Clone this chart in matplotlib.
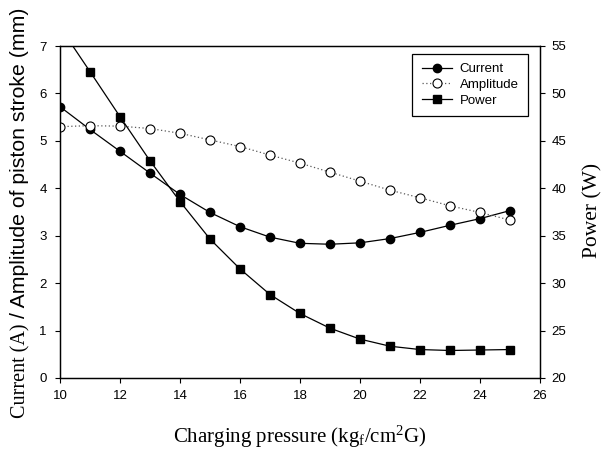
import matplotlib
matplotlib.use("Agg")
import matplotlib.pyplot as plt
from matplotlib.lines import Line2D

# charging pressure (kgf/cm2G)
pressure = [10, 11, 12, 13, 14, 15, 16, 17, 18, 19, 20, 21, 22, 23, 24, 25]
# current (A), left axis
current = [5.72, 5.24, 4.78, 4.32, 3.87, 3.49, 3.19, 2.97, 2.84, 2.82,
           2.85, 2.94, 3.07, 3.22, 3.36, 3.53]
# amplitude of piston stroke (mm), left axis
amplitude = [5.30, 5.32, 5.31, 5.26, 5.16, 5.02, 4.88, 4.70, 4.53, 4.34,
             4.15, 3.96, 3.80, 3.63, 3.49, 3.33]
# power (W), right axis
power = [57.0, 52.3, 47.55, 42.9, 38.6, 34.65, 31.5, 28.8, 26.8, 25.25,
         24.1, 23.35, 23.0, 22.9, 22.95, 23.0]

W, H = 601, 453
plt.rcParams['font.family'] = 'Liberation Sans'
plt.rcParams['mathtext.fontset'] = 'custom'
plt.rcParams['mathtext.rm'] = 'Liberation Serif'
plt.rcParams['mathtext.it'] = 'Liberation Serif:italic'

fig = plt.figure(figsize=(W / 100, H / 100), dpi=100)
ax = fig.add_axes([60 / W, 75 / H, 480 / W, 332 / H])
ax2 = ax.twinx()

ax.plot(pressure, current, '-o', color='black', lw=0.9, ms=6,
        mfc='black', mec='black', zorder=3)
ax.plot(pressure, amplitude, linestyle=(0, (1, 2)), color='0.35', lw=0.9,
        marker='o', ms=6.5, mfc='white', mec='black', mew=0.8, zorder=3)
ax2.plot(pressure, power, '-s', color='black', lw=0.9, ms=5.5,
         mfc='black', mec='black', zorder=3)

ax.set_xlim(10, 26)
ax.set_ylim(0, 7)
ax2.set_ylim(20, 55)
ax.set_xticks(range(10, 27, 2))
ax.set_yticks(range(0, 8))
ax2.set_yticks(range(20, 56, 5))

ax.tick_params(axis='x', direction='out', length=3.5, width=0.8, pad=5, labelsize=9.5)
ax.tick_params(axis='y', direction='out', length=3.5, width=0.8, pad=6, labelsize=9.5)
ax2.tick_params(axis='y', direction='out', length=3.5, width=0.8, pad=5, labelsize=9.5)
for a in (ax, ax2):
    for s in a.spines.values():
        s.set_linewidth(0.9)

# legend
handles = [
    Line2D([], [], color='black', lw=0.9, marker='o', ms=6, mfc='black'),
    Line2D([], [], color='0.35', lw=0.9, linestyle=(0, (1, 2)), marker='o',
           ms=6.5, mfc='white', mec='black', mew=0.8),
    Line2D([], [], color='black', lw=0.9, marker='s', ms=5.5, mfc='black'),
]
leg = ax2.legend(handles, ['Current', 'Amplitude', 'Power'], loc='upper right',
                 bbox_to_anchor=((528 - 60) / 480, (378 - 54) / 332),
                 borderaxespad=0, fontsize=9.5, fancybox=False, frameon=True,
                 edgecolor='black', framealpha=1, handlelength=2.3,
                 handletextpad=0.6, borderpad=0.7, labelspacing=0.25)
leg.get_frame().set_linewidth(0.9)


def px(x, y):
    return x / W, (H - y) / H


# x label
fig.text(*px(300, 443), 'Charging pressure (kg$_{\\mathrm{f}}$/cm$^{\\mathrm{2}}$G)',
         family='Liberation Serif', fontsize=15, ha='center', va='baseline')

# right label
fig.text(*px(597, 210), 'Power (W)', family='Liberation Serif', fontsize=15.5,
         rotation=90, rotation_mode='anchor', ha='center', va='baseline')

# left label, mixed fonts as in the original
t1 = fig.text(*px(25, 418), 'Current (A)', family='Liberation Serif', fontsize=14.5,
              rotation=90, rotation_mode='anchor', ha='left', va='baseline')
fig.canvas.draw()
h1 = t1.get_window_extent().height
fig.text(*px(25, 418 - h1 - 5), '/ Amplitude of piston stroke (mm)',
         family='Liberation Sans', fontsize=15.3,
         rotation=90, rotation_mode='anchor', ha='left', va='baseline')

fig.savefig('out.png', dpi=100)
